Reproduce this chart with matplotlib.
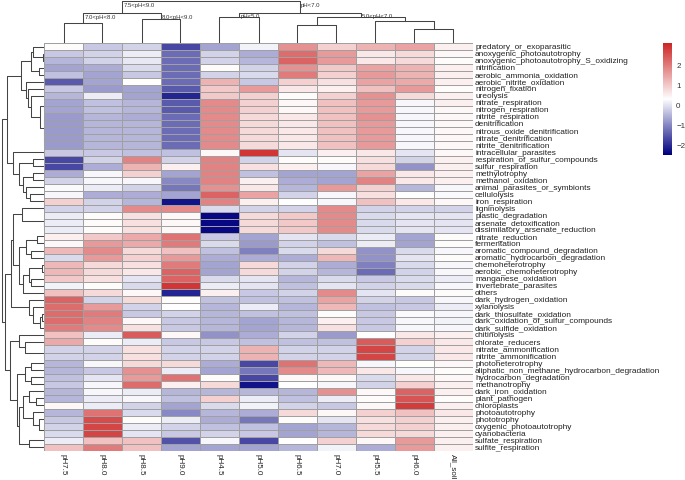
import numpy as np
import matplotlib
matplotlib.use("Agg")
import matplotlib.pyplot as plt
from matplotlib.colors import LinearSegmentedColormap, Normalize

plt.rcParams['font.family'] = ['Liberation Sans', 'DejaVu Sans']

samples = ["pH7.5", "pH8.0", "pH8.5", "pH9.0", "pH4.5", "pH5.0",
           "pH6.5", "pH7.0", "pH5.5", "pH6.0", "All_soil"]

functions = [
    "predatory_or_exoparasitic", "anoxygenic_photoautotrophy",
    "anoxygenic_photoautotrophy_S_oxidizing", "nitrification",
    "aerobic_ammonia_oxidation", "aerobic_nitrite_oxidation",
    "nitrogen_fixation", "ureolysis", "nitrate_respiration",
    "nitrogen_respiration", "nitrite_respiration", "denitrification",
    "nitrous_oxide_denitrification", "nitrate_denitrification",
    "nitrite_denitrification", "intracellular_parasites",
    "respiration_of_sulfur_compounds", "sulfur_respiration", "methylotrophy",
    "methanol_oxidation", "animal_parasites_or_symbionts", "cellulolysis",
    "iron_respiration", "ligninolysis", "plastic_degradation",
    "arsenate_detoxification", "dissimilatory_arsenate_reduction",
    "nitrate_reduction", "fermentation", "aromatic_compound_degradation",
    "aromatic_hydrocarbon_degradation", "chemoheterotrophy",
    "aerobic_chemoheterotrophy", "manganese_oxidation",
    "invertebrate_parasites", "others", "dark_hydrogen_oxidation",
    "xylanolysis", "dark_thiosulfate_oxidation",
    "dark_oxidation_of_sulfur_compounds", "dark_sulfide_oxidation",
    "chitinolysis", "chlorate_reducers", "nitrate_ammonification",
    "nitrite_ammonification", "photoheterotrophy",
    "aliphatic_non_methane_hydrocarbon_degradation",
    "hydrocarbon_degradation", "methanotrophy", "dark_iron_oxidation",
    "plant_pathogen", "chloroplasts", "photoautotrophy", "phototrophy",
    "oxygenic_photoautotrophy", "cyanobacteria", "sulfate_respiration",
    "sulfite_respiration",
]

# scaled values per sample, read relative to the white middle of the legend
ph7_5 = [0.05, -0.6, -0.8, -1.0, -0.7, -1.8, -0.6, -0.8, -1.0, -1.0,
         -1.1, -1.1, -1.1, -1.1, -1.1, -0.6, -2.0, -2.0, -0.9, -0.5,
         -0.05, -0.1, 0.6, -0.5, -0.2, -0.2, -0.2, 0.2, 0.1, 0.9,
         -0.4, 0.9, 0.9, 0.7, -0.15, 0.8, 2.0, 1.9, 1.9, 1.9,
         1.7, 0.8, 1.1, -0.5, -0.5, -0.8, -0.8, -0.7, -0.6, -0.8,
         -0.8, 0.1, -0.8, -0.6, -0.5, -0.4, -0.2, 0.8]
ph8_0 = [-0.6, -0.5, -0.5, -0.9, -1.0, -1.0, -1.1, -0.2, -0.7, -0.7,
         -0.8, -0.8, -0.8, -0.8, -0.8, -0.6, -0.5, -0.9, -0.1, -0.1,
         -0.2, -0.9, -0.5, -0.5, 0.05, 0.05, 0.05, 0.7, 1.3, 1.5,
         1.3, 0.5, 0.5, 0.4, 0.05, 0.5, -0.5, 1.3, 1.7, 1.6,
         1.5, -0.2, 0.05, -0.5, -0.5, -0.1, -0.6, -0.3, -0.1, -0.1,
         -0.2, -0.2, 1.8, 2.3, 2.4, 2.4, 0.8, 1.7]
ph8_5 = [-0.5, -0.2, -0.25, -0.4, -0.6, 0.0, -1.0, -1.0, -0.8, -0.8,
         -0.9, -0.8, -0.8, -0.8, -0.8, -0.7, 1.6, 1.0, 0.6, -0.1,
         -0.5, -0.9, -0.8, 1.5, 0.4, 0.4, 0.4, 1.1, 1.1, 0.5,
         0.6, 0.4, 0.3, -0.3, -0.4, 0.1, 0.5, -0.5, -0.6, 0.1,
         0.4, 2.1, -0.2, 0.4, 0.4, 0.5, 1.4, 1.3, 1.9, -0.2,
         -0.1, -0.5, -0.4, 0.05, -0.2, -0.3, 0.8, 0.8]
ph9_0 = [-2.0, -1.6, -1.6, -1.6, -1.6, -1.6, -1.8, -2.4, -1.8, -1.8,
         -1.6, -1.6, -1.6, -1.6, -1.6, -0.7, -0.5, 0.2, -1.0, -1.3,
         -1.5, -1.0, -2.6, 1.5, 0.1, 0.1, 0.1, 1.8, 1.7, 0.8,
         1.3, 1.7, 2.0, 2.0, 2.6, -2.4, 0.05, 0.0, -0.5, -0.6,
         -0.6, 0.1, -0.6, -0.5, -0.5, 0.5, -0.2, 1.8, 0.2, -0.8,
         -0.7, -1.0, -1.3, -0.2, -0.5, -0.6, -1.9, -1.0]
ph4_5 = [-1.0, -0.5, -0.5, 0.05, -0.5, 1.0, 0.7, 0.7, 1.5, 1.5,
         1.5, 1.5, 1.5, 1.5, 1.5, 0.1, 1.6, 1.6, 1.6, 1.6,
         1.4, 2.0, 1.6, -0.4, -2.7, -2.7, -2.7, -0.6, -0.4, -0.7,
         -0.9, -1.0, -1.0, -0.4, -0.2, 0.2, -0.7, -0.8, -0.8, -0.8,
         -0.8, -1.2, -0.6, -0.5, -0.5, -0.9, -1.0, 0.05, 0.5, -0.8,
         0.6, -0.4, -0.8, -0.9, -0.7, -0.5, -0.1, -1.0]
ph5_0 = [-0.15, -0.9, -0.8, -0.5, -0.4, -0.6, 1.3, 0.6, 0.6, 0.6,
         0.5, 0.5, 0.5, 0.5, 0.5, 2.6, -0.5, 0.4, -0.7, 0.2,
         0.3, 1.2, 0.2, -0.5, 0.5, 0.5, 0.5, -1.0, -1.1, -1.4,
         -0.9, 0.5, 0.5, -0.3, -0.3, -0.6, -0.7, -0.2, -0.7, -1.0,
         -1.0, -0.9, -0.7, 1.0, 1.0, -2.0, -1.5, -2.0, -2.6, -0.8,
         -0.2, -0.15, -0.9, -1.5, -0.7, -0.6, -2.0, -1.0]
ph6_5 = [1.4, 1.9, 2.0, 1.4, 1.7, 0.6, 0.3, 0.05, 0.1, 0.1,
         0.3, 0.3, 0.3, 0.3, 0.3, -0.3, 0.05, 0.2, -1.0, -0.9,
         -0.8, -0.5, 0.0, -0.5, 0.7, 0.7, 0.7, -0.3, -0.5, -0.4,
         -0.9, -0.5, -0.5, -0.8, -0.7, -0.5, -0.7, -0.8, -0.7, -0.8,
         -0.8, -0.5, -0.7, -0.5, -0.5, 1.8, 1.5, 0.1, 0.0, -0.8,
         -0.7, -0.5, 0.5, 0.05, -1.0, -1.0, 0.0, -0.8]
ph7_0 = [0.6, 1.3, 1.3, 0.7, 0.6, 0.4, 0.2, 0.6, 0.8, 0.8,
         0.8, 0.8, 0.8, 0.8, 0.8, 0.2, 0.05, -0.1, -1.0, -1.0,
         1.3, -0.1, -0.1, 1.5, 1.5, 1.5, 1.5, -0.4, -0.7, 0.5,
         0.9, -0.9, -0.8, -0.4, -0.3, 1.5, 1.2, 0.9, 0.05, 0.2,
         0.4, -1.1, -0.7, -0.5, -0.5, 0.9, 0.9, 0.1, -0.1, 1.4,
         -0.2, -0.6, 0.1, -0.3, -0.8, -0.8, 0.6, -0.15]
ph5_5 = [1.0, 0.3, 0.3, 1.2, 1.3, 1.2, 0.8, 1.4, 1.3, 1.3,
         1.4, 1.3, 1.3, 1.3, 1.3, 0.3, 0.4, 0.5, 1.2, 1.6,
         0.6, 0.4, 0.8, -0.5, -0.4, -0.4, -0.4, -0.2, -0.2, -1.2,
         -1.2, -1.4, -1.6, -0.6, -0.5, -0.3, -0.5, -0.7, -0.6, -0.6,
         -0.6, 0.0, 2.1, 2.4, 2.4, -0.1, 0.3, -0.4, -0.5, 0.1,
         0.05, 0.1, 0.6, 0.4, 0.5, 0.5, 0.1, -0.9]
ph6_0 = [1.2, 0.5, 0.5, 1.0, 1.0, 1.1, 1.3, 0.5, -0.1, -0.1,
         -0.1, -0.1, -0.1, -0.1, -0.1, -0.3, -0.5, -1.2, 0.3, 0.3,
         -0.8, 0.0, 0.3, -0.5, -0.3, -0.3, -0.3, -1.0, -1.0, -0.4,
         -0.3, -0.4, -0.5, -0.4, -0.4, 0.05, -0.6, -0.6, -0.05, -0.1,
         -0.1, 0.3, 0.6, -0.5, -0.5, 0.0, -0.1, 0.3, 0.6, 2.0,
         2.2, 2.5, 0.8, 0.6, 0.6, 0.5, 1.3, 1.3]
all_soil = [0.2, 0.1, 0.05, 0.2, 0.2, 0.2, 0.05, 0.2, 0.2, 0.1,
            0.1, 0.1, 0.1, 0.1, 0.1, 0.1, 0.2, 0.2, 0.2, 0.2,
            -0.1, -0.05, 0.1, -0.5, -0.3, -0.3, -0.3, 0.05, 0.05, -0.1,
            0.05, -0.1, -0.1, -0.2, -0.1, 0.05, -0.1, -0.2, -0.1, -0.15,
            -0.1, 0.2, 0.3, 0.3, 0.3, 0.1, 0.05, 0.1, 0.2, 0.2,
            0.05, 0.2, 0.3, 0.2, 0.2, 0.2, 0.2, 0.2]

# legend runs from about -2.5 to 3.1, so white sits near 0.3
legend_min, legend_max = -2.5, 3.1
legend_ticks = [2, 1, 0, -1, -2]

# row tree: (left, right, height); leaves are row indices
row_A = ((0, (1, 2, 0.03), 0.26), (3, 4, 0.12), 0.31)
row_B = (5, (6, (7, ((8, 9, 0.01), ((10, 11, 0.005), (12, (13, 14, 0.005), 0.006), 0.008), 0.1), 0.3), 0.375), 0.43)
row_C = (15, ((16, 17, 0.26), ((18, 19, 0.26), (20, (21, 22, 0.33), 0.43), 0.5), 0.6), 0.73)
row_D1 = ((23, (24, (25, 26, 0.005), 0.008), 0.53),
          (((27, 28, 0.17), (29, 30, 0.3), 0.42),
           (((31, 32, 0.05), (33, 34, 0.3), 0.35), 35, 0.5), 0.58), 0.73)
row_D2 = (36, (37, ((38, 39, 0.05), 40, 0.1), 0.25), 0.35)
row_E = ((41, (42, (43, 44, 0.005), 0.45), 0.6),
         (((45, 46, 0.3), (47, 48, 0.3), 0.45),
          (((49, (50, 51, 0.2), 0.35), (52, (53, (54, 55, 0.01), 0.12), 0.25), 0.5),
           (56, 57, 0.35), 0.58), 0.65), 0.8)
row_tree = (((row_A, row_B, 0.55), row_C, 0.88), ((row_D1, row_D2, 0.78), row_E, 0.92), 1.0)

# column tree with the group labels written at the ends of the bars
col_tree = (((0, 1, 20.3), (2, 3, 23.7), 29.7, "7.0<pH<8.0", "8.0<pH<9.0"),
            ((4, 5, 25.7), ((6, 7, 17.7), (8, (9, 10, 14.3), 22), 25.7), 30.3,
             "pH<5.0", "5.0<pH<7.0"),
            42, "7.5<pH<9.0", "pH<7.0")

W, H = 685, 480
fig = plt.figure(figsize=(W / 100, H / 100), dpi=100)


def px(x0, y0, x1, y1):
    return [x0 / W, 1 - y1 / H, (x1 - x0) / W, (y1 - y0) / H]


hm_l, hm_t, hm_r, hm_b = 44, 43, 473, 451
line_c = '#444444'

cmap = LinearSegmentedColormap.from_list('nwf', ['#000080', '#FFFFFF', '#CD2626'])
norm = Normalize(legend_min, legend_max)

values = np.array([ph7_5, ph8_0, ph8_5, ph9_0, ph4_5, ph5_0,
                   ph6_5, ph7_0, ph5_5, ph6_0, all_soil]).T + 0.3

ax = fig.add_axes(px(hm_l, hm_t, hm_r, hm_b))
ax.pcolormesh(np.arange(len(samples) + 1), np.arange(len(functions) + 1), values,
              cmap=cmap, norm=norm, edgecolors='#A0A0A0', linewidth=0.5)
ax.set_xlim(0, len(samples))
ax.set_ylim(len(functions), 0)
for s in ax.spines.values():
    s.set_visible(False)
ax.yaxis.tick_right()
ax.set_yticks(np.arange(len(functions)) + 0.5)
ax.set_yticklabels(functions, fontsize=5.95, color='#222222')
ax.set_xticks(np.arange(len(samples)) + 0.5)
ax.set_xticklabels(samples, rotation=270, fontsize=5.8, color='#222222', va='top', ha='center')
ax.tick_params(length=0, pad=1.5)
ax.tick_params(axis='x', pad=2.5)


def draw(node, ax, vertical):
    # returns (leaf position, height)
    if isinstance(node, int):
        return node + 0.5, 0.0
    left, right, h = node[0], node[1], node[2]
    pl, hl = draw(left, ax, vertical)
    pr, hr = draw(right, ax, vertical)
    if vertical:
        ax.plot([pl, pl, pr, pr], [hl, h, h, hr], color=line_c, lw=0.75, solid_capstyle='butt')
        if len(node) > 3:
            ax.text(pl + 0.03, h - 1.5, node[3], fontsize=4.3, color='#333333', va='top', ha='left')
            ax.text(pr + 0.03, h - 1.5, node[4], fontsize=4.3, color='#333333', va='top', ha='left')
    else:
        ax.plot([hl, h, h, hr], [pl, pl, pr, pr], color=line_c, lw=0.75, solid_capstyle='butt')
    return (pl + pr) / 2, h


axl = fig.add_axes(px(0, hm_t, hm_l, hm_b))
draw(row_tree, axl, False)
axl.set_xlim(1.04, 0)
axl.set_ylim(len(functions), 0)
axl.axis('off')

axt = fig.add_axes(px(hm_l, 0, hm_r, hm_t))
draw(col_tree, axt, True)
axt.set_xlim(0, len(samples))
axt.set_ylim(0, 43)
axt.axis('off')

axc = fig.add_axes(px(663, 43, 672, 155))
grad = np.linspace(legend_max, legend_min, 200).reshape(-1, 1)
axc.imshow(grad, cmap=cmap, norm=norm, aspect='auto',
           extent=[0, 1, legend_min, legend_max])
axc.set_xticks([])
axc.yaxis.tick_right()
axc.set_yticks(legend_ticks)
axc.set_yticklabels([str(t).replace('-', '\u2212') for t in legend_ticks], fontsize=5.8, color='#333333')
axc.tick_params(length=0, pad=3)
for s in axc.spines.values():
    s.set_visible(False)

fig.savefig('out.png', dpi=100, facecolor='white')
